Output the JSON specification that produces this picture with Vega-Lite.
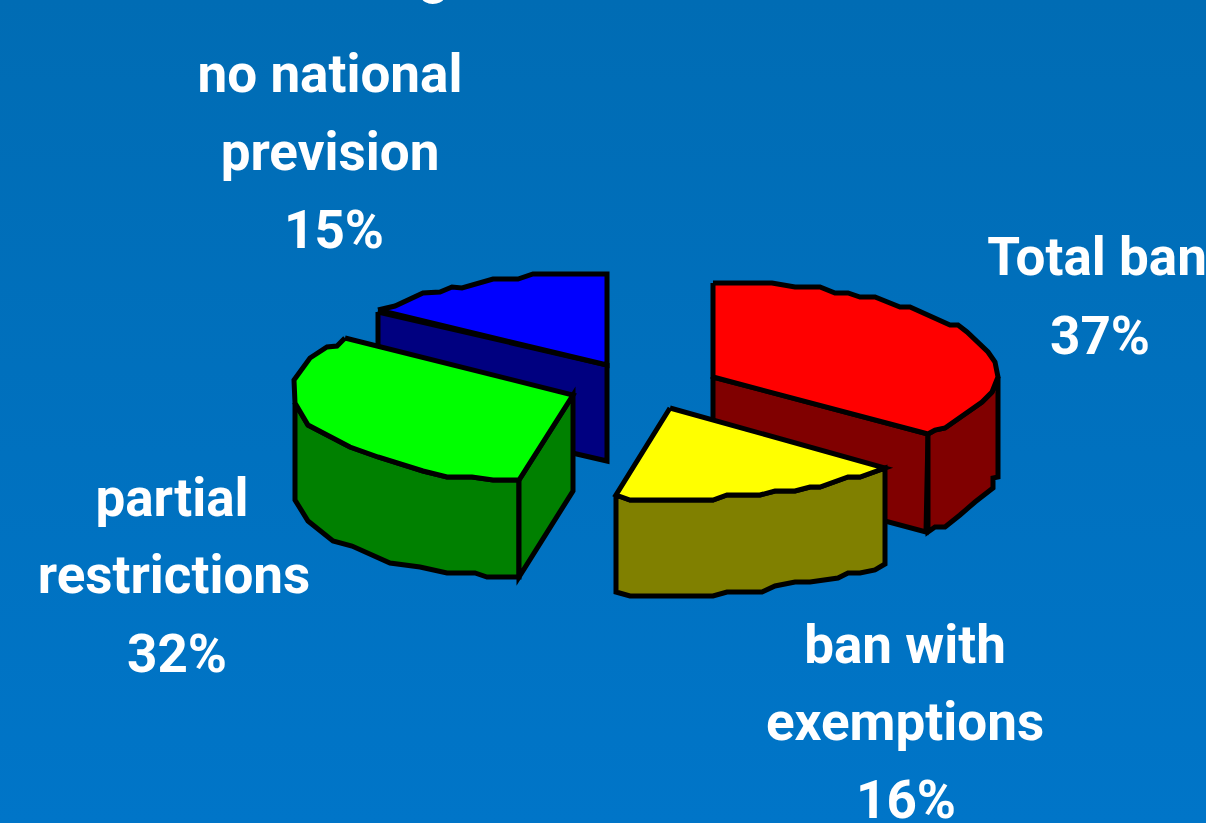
{
  "$schema": "https://vega.github.io/schema/vega-lite/v6.json",
  "width": 1206,
  "height": 823,
  "padding": 0,
  "autosize": {"type": "none"},
  "background": "#0070be",
  "view": {
    "stroke": null,
    "fill": {
      "gradient": "linear", "x1": 0, "y1": 0, "x2": 0, "y2": 1,
      "stops": [{"offset": 0, "color": "#006cb4"}, {"offset": 1, "color": "#0075c8"}]
    }
  },
  "datasets": {
    "faces": [
      {"face":"blue side","n":1,"x":378,"y":312},{"face":"blue side","n":2,"x":607,"y":365},{"face":"blue side","n":3,"x":607,"y":461},{"face":"blue side","n":4,"x":378,"y":408},{"face":"blue side","n":5,"x":378,"y":312},

      {"face":"blue top","n":1,"x":378,"y":310},{"face":"blue top","n":2,"x":395,"y":306},{"face":"blue top","n":3,"x":423,"y":293},{"face":"blue top","n":4,"x":440,"y":292},{"face":"blue top","n":5,"x":452,"y":287},{"face":"blue top","n":6,"x":462,"y":288},{"face":"blue top","n":7,"x":493,"y":279},{"face":"blue top","n":8,"x":518,"y":279},{"face":"blue top","n":9,"x":533,"y":274},{"face":"blue top","n":10,"x":607,"y":274},{"face":"blue top","n":11,"x":607,"y":365},{"face":"blue top","n":12,"x":378,"y":310},

      {"face":"green front","n":1,"x":295,"y":403},{"face":"green front","n":2,"x":308,"y":425},{"face":"green front","n":3,"x":350,"y":447},{"face":"green front","n":4,"x":378,"y":457},{"face":"green front","n":5,"x":423,"y":471},{"face":"green front","n":6,"x":447,"y":477},{"face":"green front","n":7,"x":472,"y":477},{"face":"green front","n":8,"x":493,"y":480},{"face":"green front","n":9,"x":519,"y":480},{"face":"green front","n":10,"x":519,"y":577},{"face":"green front","n":11,"x":487,"y":577},{"face":"green front","n":12,"x":475,"y":573},{"face":"green front","n":13,"x":447,"y":573},{"face":"green front","n":14,"x":420,"y":567},{"face":"green front","n":15,"x":390,"y":563},{"face":"green front","n":16,"x":352,"y":546},{"face":"green front","n":17,"x":333,"y":541},{"face":"green front","n":18,"x":308,"y":521},{"face":"green front","n":19,"x":295,"y":500},{"face":"green front","n":20,"x":295,"y":403},

      {"face":"green cut","n":1,"x":519,"y":480},{"face":"green cut","n":2,"x":573,"y":395},{"face":"green cut","n":3,"x":573,"y":491},{"face":"green cut","n":4,"x":519,"y":577},{"face":"green cut","n":5,"x":519,"y":480},

      {"face":"green top","n":1,"x":345,"y":338},{"face":"green top","n":2,"x":573,"y":395},{"face":"green top","n":3,"x":519,"y":480},{"face":"green top","n":4,"x":493,"y":480},{"face":"green top","n":5,"x":472,"y":477},{"face":"green top","n":6,"x":447,"y":477},{"face":"green top","n":7,"x":423,"y":471},{"face":"green top","n":8,"x":378,"y":457},{"face":"green top","n":9,"x":350,"y":447},{"face":"green top","n":10,"x":308,"y":425},{"face":"green top","n":11,"x":295,"y":403},{"face":"green top","n":12,"x":294,"y":380},{"face":"green top","n":13,"x":310,"y":358},{"face":"green top","n":14,"x":327,"y":347},{"face":"green top","n":15,"x":337,"y":346},{"face":"green top","n":16,"x":345,"y":338},

      {"face":"red cut","n":1,"x":713,"y":377},{"face":"red cut","n":2,"x":928,"y":434},{"face":"red cut","n":3,"x":926,"y":532},{"face":"red cut","n":4,"x":713,"y":475},{"face":"red cut","n":5,"x":713,"y":377},

      {"face":"red outer","n":1,"x":928,"y":434},{"face":"red outer","n":2,"x":935,"y":430},{"face":"red outer","n":3,"x":945,"y":428},{"face":"red outer","n":4,"x":982,"y":402},{"face":"red outer","n":5,"x":992,"y":392},{"face":"red outer","n":6,"x":998,"y":377},{"face":"red outer","n":7,"x":998,"y":477},{"face":"red outer","n":8,"x":993,"y":478},{"face":"red outer","n":9,"x":993,"y":488},{"face":"red outer","n":10,"x":975,"y":502},{"face":"red outer","n":11,"x":960,"y":515},{"face":"red outer","n":12,"x":945,"y":527},{"face":"red outer","n":13,"x":935,"y":527},{"face":"red outer","n":14,"x":928,"y":532},{"face":"red outer","n":15,"x":928,"y":434},

      {"face":"red top","n":1,"x":713,"y":283},{"face":"red top","n":2,"x":772,"y":283},{"face":"red top","n":3,"x":795,"y":287},{"face":"red top","n":4,"x":820,"y":287},{"face":"red top","n":5,"x":835,"y":293},{"face":"red top","n":6,"x":848,"y":293},{"face":"red top","n":7,"x":860,"y":297},{"face":"red top","n":8,"x":875,"y":297},{"face":"red top","n":9,"x":900,"y":307},{"face":"red top","n":10,"x":910,"y":307},{"face":"red top","n":11,"x":950,"y":325},{"face":"red top","n":12,"x":958,"y":325},{"face":"red top","n":13,"x":967,"y":332},{"face":"red top","n":14,"x":988,"y":352},{"face":"red top","n":15,"x":995,"y":362},{"face":"red top","n":16,"x":998,"y":377},{"face":"red top","n":17,"x":992,"y":392},{"face":"red top","n":18,"x":982,"y":402},{"face":"red top","n":19,"x":945,"y":428},{"face":"red top","n":20,"x":935,"y":430},{"face":"red top","n":21,"x":928,"y":434},{"face":"red top","n":22,"x":713,"y":377},{"face":"red top","n":23,"x":713,"y":283},

      {"face":"yellow front","n":1,"x":616,"y":495},{"face":"yellow front","n":2,"x":630,"y":500},{"face":"yellow front","n":3,"x":713,"y":500},{"face":"yellow front","n":4,"x":727,"y":495},{"face":"yellow front","n":5,"x":760,"y":495},{"face":"yellow front","n":6,"x":775,"y":491},{"face":"yellow front","n":7,"x":795,"y":491},{"face":"yellow front","n":8,"x":810,"y":487},{"face":"yellow front","n":9,"x":820,"y":487},{"face":"yellow front","n":10,"x":848,"y":477},{"face":"yellow front","n":11,"x":860,"y":477},{"face":"yellow front","n":12,"x":885,"y":468},{"face":"yellow front","n":13,"x":885,"y":564},{"face":"yellow front","n":14,"x":875,"y":570},{"face":"yellow front","n":15,"x":860,"y":573},{"face":"yellow front","n":16,"x":848,"y":573},{"face":"yellow front","n":17,"x":838,"y":578},{"face":"yellow front","n":18,"x":810,"y":582},{"face":"yellow front","n":19,"x":795,"y":582},{"face":"yellow front","n":20,"x":775,"y":586},{"face":"yellow front","n":21,"x":762,"y":592},{"face":"yellow front","n":22,"x":727,"y":592},{"face":"yellow front","n":23,"x":713,"y":596},{"face":"yellow front","n":24,"x":630,"y":596},{"face":"yellow front","n":25,"x":616,"y":592},{"face":"yellow front","n":26,"x":616,"y":495},

      {"face":"yellow top","n":1,"x":670,"y":408},{"face":"yellow top","n":2,"x":885,"y":468},{"face":"yellow top","n":3,"x":860,"y":477},{"face":"yellow top","n":4,"x":848,"y":477},{"face":"yellow top","n":5,"x":820,"y":487},{"face":"yellow top","n":6,"x":810,"y":487},{"face":"yellow top","n":7,"x":795,"y":491},{"face":"yellow top","n":8,"x":775,"y":491},{"face":"yellow top","n":9,"x":760,"y":495},{"face":"yellow top","n":10,"x":727,"y":495},{"face":"yellow top","n":11,"x":713,"y":500},{"face":"yellow top","n":12,"x":630,"y":500},{"face":"yellow top","n":13,"x":616,"y":495},{"face":"yellow top","n":14,"x":670,"y":408}
    ],
    "labels": [
      {"line":"no national","x":330,"y":92},
      {"line":"prevision","x":330,"y":170},
      {"line":"15%","x":334,"y":248},
      {"line":"Total ban","x":1097,"y":275},
      {"line":"37%","x":1100,"y":354},
      {"line":"partial","x":172,"y":516},
      {"line":"restrictions","x":174,"y":593},
      {"line":"32%","x":177,"y":672},
      {"line":"ban with","x":905,"y":663},
      {"line":"exemptions","x":905,"y":740},
      {"line":"16%","x":906,"y":818},
      {"line":"g","x":434,"y":-7}
    ]
  },
  "layer": [
    {
      "data": {"name": "faces"},
      "mark": {"type": "line", "stroke": "#000000", "strokeWidth": 5, "strokeJoin": "miter"},
      "encoding": {
        "x": {"field": "x", "type": "quantitative", "scale": {"domain": [0, 1206]}, "axis": null},
        "y": {"field": "y", "type": "quantitative", "scale": {"domain": [823, 0]}, "axis": null},
        "order": {"field": "n", "type": "quantitative"},
        "detail": {"field": "face", "type": "nominal"},
        "fill": {
          "field": "face",
          "type": "nominal",
          "legend": null,
          "scale": {
            "domain": ["blue side","blue top","green front","green cut","green top","red cut","red outer","red top","yellow front","yellow top"],
            "range": ["#000080","#0000ff","#008000","#008000","#00ff00","#800000","#800000","#ff0000","#808000","#ffff00"]
          }
        }
      }
    },
    {
      "data": {"name": "labels"},
      "mark": {"type": "text", "font": "Roboto", "fontWeight": "bold", "fontSize": 53, "color": "#ffffff", "align": "center", "baseline": "alphabetic"},
      "encoding": {
        "x": {"field": "x", "type": "quantitative", "scale": {"domain": [0, 1206]}, "axis": null},
        "y": {"field": "y", "type": "quantitative", "scale": {"domain": [823, 0]}, "axis": null},
        "text": {"field": "line", "type": "nominal"}
      }
    }
  ]
}
